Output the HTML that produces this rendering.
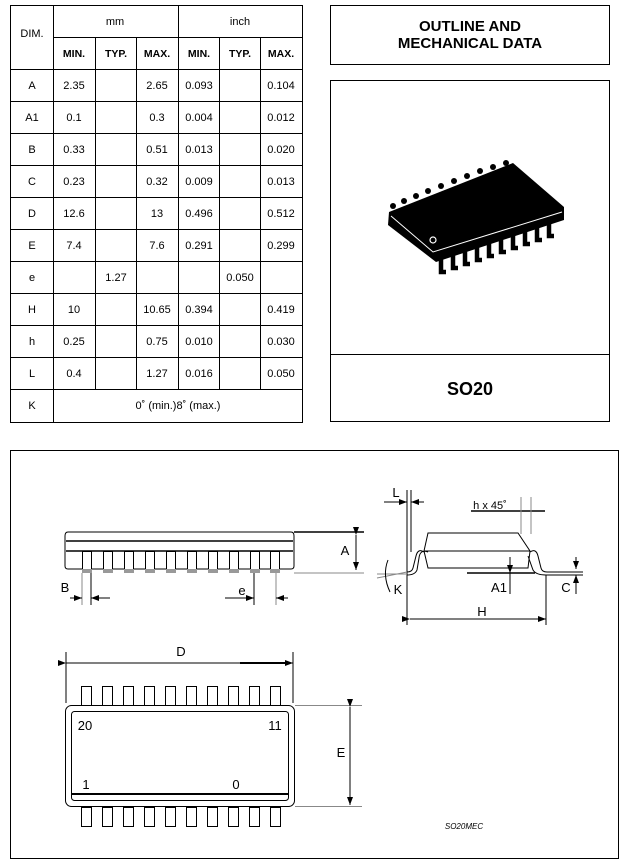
<!DOCTYPE html>
<html><head><meta charset="utf-8"><style>
body{margin:0;background:#fff;}
svg{display:block;font-family:"Liberation Sans",Arial,sans-serif;}
</style></head><body>
<svg width="626" height="863" viewBox="0 0 626 863" xmlns="http://www.w3.org/2000/svg">
<defs>
<marker id="ar" markerWidth="8" markerHeight="6" refX="8" refY="3" orient="auto" markerUnits="userSpaceOnUse"><path d="M0,0 L8,3 L0,6 z" fill="#000"/></marker>
</defs>
<g stroke="#000" stroke-width="1" fill="none">
<rect x="10.5" y="5.5" width="292" height="417"/>
<line x1="53.5" y1="5" x2="53.5" y2="422"/>
<line x1="178.5" y1="5" x2="178.5" y2="389"/>
<line x1="95.5" y1="37" x2="95.5" y2="389"/>
<line x1="136.5" y1="37" x2="136.5" y2="389"/>
<line x1="219.5" y1="37" x2="219.5" y2="389"/>
<line x1="260.5" y1="37" x2="260.5" y2="389"/>
<line x1="53" y1="37.5" x2="302" y2="37.5"/>
<line x1="10" y1="69.5" x2="302" y2="69.5"/>
<line x1="10" y1="101.5" x2="302" y2="101.5"/>
<line x1="10" y1="133.5" x2="302" y2="133.5"/>
<line x1="10" y1="165.5" x2="302" y2="165.5"/>
<line x1="10" y1="197.5" x2="302" y2="197.5"/>
<line x1="10" y1="229.5" x2="302" y2="229.5"/>
<line x1="10" y1="261.5" x2="302" y2="261.5"/>
<line x1="10" y1="293.5" x2="302" y2="293.5"/>
<line x1="10" y1="325.5" x2="302" y2="325.5"/>
<line x1="10" y1="357.5" x2="302" y2="357.5"/>
<line x1="10" y1="389.5" x2="302" y2="389.5"/>
<rect x="330.5" y="5.5" width="279" height="59"/>
<rect x="330.5" y="80.5" width="279" height="341"/>
<line x1="330" y1="354.5" x2="609" y2="354.5"/>
<rect x="10.5" y="450.5" width="608" height="408"/>
</g>
<g font-size="11" text-anchor="middle" fill="#000">
<text x="32" y="37">DIM.</text>
<text x="115" y="25">mm</text><text x="240" y="25">inch</text>
<g font-weight="bold" font-size="10.5"><text x="74" y="57">MIN.</text><text x="116" y="57">TYP.</text><text x="157" y="57">MAX.</text><text x="199" y="57">MIN.</text><text x="240" y="57">TYP.</text><text x="281" y="57">MAX.</text></g>
<text x="32" y="89">A</text><text x="74" y="89">2.35</text><text x="157" y="89">2.65</text><text x="199" y="89">0.093</text><text x="281" y="89">0.104</text>
<text x="32" y="121">A1</text><text x="74" y="121">0.1</text><text x="157" y="121">0.3</text><text x="199" y="121">0.004</text><text x="281" y="121">0.012</text>
<text x="32" y="153">B</text><text x="74" y="153">0.33</text><text x="157" y="153">0.51</text><text x="199" y="153">0.013</text><text x="281" y="153">0.020</text>
<text x="32" y="185">C</text><text x="74" y="185">0.23</text><text x="157" y="185">0.32</text><text x="199" y="185">0.009</text><text x="281" y="185">0.013</text>
<text x="32" y="217">D</text><text x="74" y="217">12.6</text><text x="157" y="217">13</text><text x="199" y="217">0.496</text><text x="281" y="217">0.512</text>
<text x="32" y="249">E</text><text x="74" y="249">7.4</text><text x="157" y="249">7.6</text><text x="199" y="249">0.291</text><text x="281" y="249">0.299</text>
<text x="32" y="281">e</text><text x="116" y="281">1.27</text><text x="240" y="281">0.050</text>
<text x="32" y="313">H</text><text x="74" y="313">10</text><text x="157" y="313">10.65</text><text x="199" y="313">0.394</text><text x="281" y="313">0.419</text>
<text x="32" y="345">h</text><text x="74" y="345">0.25</text><text x="157" y="345">0.75</text><text x="199" y="345">0.010</text><text x="281" y="345">0.030</text>
<text x="32" y="377">L</text><text x="74" y="377">0.4</text><text x="157" y="377">1.27</text><text x="199" y="377">0.016</text><text x="281" y="377">0.050</text>
<text x="32" y="409">K</text><text x="178" y="409">0˚ (min.)8˚ (max.)</text>
<g font-weight="bold" font-size="15"><text x="470" y="31">OUTLINE AND</text><text x="470" y="48">MECHANICAL DATA</text></g>
<text x="470" y="395" font-weight="bold" font-size="18">SO20</text>
</g>
<!-- chip photo -->
<g>
<g fill="#000">
<circle cx="393" cy="206" r="3"/><circle cx="404" cy="201" r="3"/><circle cx="416" cy="196" r="3"/><circle cx="428" cy="191" r="3"/><circle cx="441" cy="186" r="3"/><circle cx="454" cy="181" r="3"/><circle cx="467" cy="176" r="3"/><circle cx="480" cy="171" r="3"/><circle cx="493" cy="167" r="3"/><circle cx="506" cy="163" r="3"/>
</g>
<polygon points="389,212 513,163 564,207 564,220 436,262 388,225" fill="#000"/>
<polyline points="391,216 433,252 562,212" stroke="#fff" stroke-width="1" fill="none"/>
<circle cx="433" cy="240" r="3" fill="none" stroke="#fff" stroke-width="1.2"/>
<g stroke="#000" stroke-width="4.5" fill="none">
<path d="M441,258 v14 h5"/><path d="M453,254 v14 h5"/><path d="M465,250 v14 h5"/><path d="M477,246 v14 h5"/><path d="M489,242 v14 h5"/><path d="M501,238 v14 h5"/><path d="M513,234 v14 h5"/><path d="M525,230 v14 h5"/><path d="M537,226 v14 h5"/><path d="M549,222 v14 h5"/>
</g>
</g>
<!-- front view -->
<g stroke="#000" stroke-width="1" fill="none">
<path d="M68,532 H291 Q294,532 294,536 V566 Q294,569 291,569 H68 Q65,569 65,566 V536 Q65,532 68,532 Z"/>
<line x1="66" y1="541" x2="293" y2="541" stroke-width="1.5"/>
<line x1="66" y1="551" x2="293" y2="551" stroke-width="1.5"/>
<line x1="294" y1="532" x2="364" y2="532" stroke-width="1.5"/>
<line x1="294" y1="573" x2="364" y2="573" stroke="#888"/>
<line x1="356" y1="535" x2="356" y2="570" marker-start="url(#ar)" marker-end="url(#ar)"/>
<line x1="82" y1="573" x2="82" y2="605" stroke="#888"/><line x1="91" y1="573" x2="91" y2="605"/>
<line x1="70" y1="598" x2="82" y2="598" marker-end="url(#ar)"/><line x1="110" y1="598" x2="91" y2="598" marker-end="url(#ar)"/>
<line x1="254" y1="573" x2="254" y2="605"/><line x1="276" y1="573" x2="276" y2="605" stroke="#888"/>
<line x1="225" y1="598" x2="254" y2="598" marker-end="url(#ar)"/><line x1="288" y1="598" x2="276" y2="598" marker-end="url(#ar)"/>
</g>
<g fill="#fff" stroke="#000">
<rect x="82.5" y="551.5" width="9" height="18"/><rect x="103.5" y="551.5" width="9" height="18"/><rect x="124.5" y="551.5" width="9" height="18"/><rect x="145.5" y="551.5" width="9" height="18"/><rect x="166.5" y="551.5" width="9" height="18"/><rect x="187.5" y="551.5" width="9" height="18"/><rect x="208.5" y="551.5" width="9" height="18"/><rect x="229.5" y="551.5" width="9" height="18"/><rect x="250.5" y="551.5" width="9" height="18"/><rect x="270.5" y="551.5" width="9" height="18"/>
</g>
<g fill="#999"><rect x="82" y="569" width="10" height="4"/><rect x="103" y="569" width="10" height="4"/><rect x="124" y="569" width="10" height="4"/><rect x="145" y="569" width="10" height="4"/><rect x="166" y="569" width="10" height="4"/><rect x="187" y="569" width="10" height="4"/><rect x="208" y="569" width="10" height="4"/><rect x="229" y="569" width="10" height="4"/><rect x="250" y="569" width="10" height="4"/><rect x="270" y="569" width="10" height="4"/></g>
<!-- side view -->
<g stroke="#000" stroke-width="1" fill="none">
<path d="M428,568 L424,551 L428,533 H518 L530,551 L528,568 Z"/>
<line x1="424" y1="551" x2="530" y2="551"/>
<path d="M424,552 Q418,548 416,556 L413,568 Q412,572 407,572"/>
<path d="M428,552 Q420,549 419,558 L417,570 Q415,575 407,575"/>
<path d="M530,552 Q536,548 538,556 L541,568 Q542,572 547,572 H583"/>
<path d="M528,556 L533,570 Q536,575 546,575 H583"/>
<line x1="407" y1="490" x2="407" y2="625"/><line x1="411" y1="490" x2="411" y2="552"/>
<line x1="384" y1="502" x2="407" y2="502" marker-end="url(#ar)"/><line x1="424" y1="502" x2="411" y2="502" marker-end="url(#ar)"/>
<line x1="471" y1="511" x2="545" y2="511" stroke-width="1.5"/>
<line x1="521" y1="497" x2="521" y2="534" stroke="#888"/><line x1="531" y1="497" x2="531" y2="534" stroke="#888"/>
<line x1="467" y1="573" x2="535" y2="573" stroke-width="1.5"/>
<line x1="510" y1="557" x2="510" y2="573" marker-end="url(#ar)"/><line x1="510" y1="594" x2="510" y2="573"/>
<line x1="576" y1="557" x2="576" y2="569" marker-end="url(#ar)"/><line x1="576" y1="594" x2="576" y2="575" marker-end="url(#ar)"/>
<line x1="546" y1="575" x2="546" y2="625"/>
<line x1="410" y1="619" x2="546" y2="619" marker-start="url(#ar)" marker-end="url(#ar)"/>
<line x1="377" y1="578" x2="407" y2="572" stroke="#888"/>
<line x1="377" y1="574" x2="407" y2="574" stroke="#888"/>
<path d="M388,560 Q382,575 390,592"/>
</g>
<!-- top view -->
<g stroke="#000" stroke-width="1" fill="none">
<line x1="66" y1="652" x2="66" y2="703"/><line x1="293" y1="652" x2="293" y2="703"/>
<line x1="66" y1="663" x2="293" y2="663" marker-start="url(#ar)" marker-end="url(#ar)"/>
<line x1="240" y1="663" x2="288" y2="663" stroke-width="2"/>
<rect x="65.5" y="705.5" width="229" height="101" rx="6"/>
<rect x="71.5" y="711.5" width="217" height="89" rx="3"/>
<line x1="71" y1="794" x2="289" y2="794" stroke-width="2"/>
<line x1="295" y1="705.5" x2="362" y2="705.5" stroke="#888"/><line x1="295" y1="806.5" x2="362" y2="806.5" stroke="#888"/>
<line x1="350" y1="707" x2="350" y2="805" marker-start="url(#ar)" marker-end="url(#ar)"/>
<g>
<rect x="81.5" y="686.5" width="10" height="19"/><rect x="102.5" y="686.5" width="10" height="19"/><rect x="123.5" y="686.5" width="10" height="19"/><rect x="144.5" y="686.5" width="10" height="19"/><rect x="165.5" y="686.5" width="10" height="19"/><rect x="186.5" y="686.5" width="10" height="19"/><rect x="207.5" y="686.5" width="10" height="19"/><rect x="228.5" y="686.5" width="10" height="19"/><rect x="249.5" y="686.5" width="10" height="19"/><rect x="270.5" y="686.5" width="10" height="19"/>
<rect x="81.5" y="807.5" width="10" height="19"/><rect x="102.5" y="807.5" width="10" height="19"/><rect x="123.5" y="807.5" width="10" height="19"/><rect x="144.5" y="807.5" width="10" height="19"/><rect x="165.5" y="807.5" width="10" height="19"/><rect x="186.5" y="807.5" width="10" height="19"/><rect x="207.5" y="807.5" width="10" height="19"/><rect x="228.5" y="807.5" width="10" height="19"/><rect x="249.5" y="807.5" width="10" height="19"/><rect x="270.5" y="807.5" width="10" height="19"/>
</g>
</g>
<g font-size="13" fill="#000" text-anchor="middle">
<text x="345" y="555">A</text><text x="65" y="592">B</text><text x="242" y="595">e</text>
<text x="396" y="497">L</text><text x="490" y="509" font-size="11">h x 45˚</text>
<text x="499" y="592">A1</text><text x="566" y="592">C</text><text x="398" y="594">K</text><text x="482" y="616">H</text>
<text x="181" y="656">D</text><text x="341" y="757">E</text>
<text x="85" y="730">20</text><text x="275" y="730">11</text><text x="86" y="789">1</text><text x="236" y="789">0</text>
<text x="464" y="829" font-size="8" font-style="italic">SO20MEC</text>
</g>
</svg>
</body></html>
